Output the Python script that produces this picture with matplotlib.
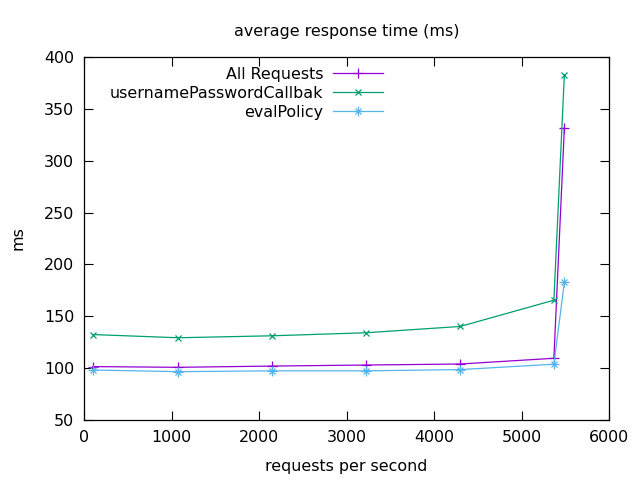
import matplotlib
matplotlib.use("Agg")
import matplotlib.pyplot as plt

rps = [100, 1075, 2150, 3220, 4300, 5370, 5490]
all_requests = [101.5, 100.8, 102.0, 103.0, 104.0, 109.5, 331.5]
username_cb = [132.4, 129.3, 131.2, 134.1, 140.2, 165.5, 383.0]
eval_policy = [98.2, 96.6, 97.4, 97.4, 98.6, 103.8, 183.0]

series_names = ["All Requests", "usernamePasswordCallbak", "evalPolicy"]
colors = ["#9400d3", "#009e73", "#56b4e9"]

x_ticks = [0, 1000, 2000, 3000, 4000, 5000, 6000]
y_ticks = [50, 100, 150, 200, 250, 300, 350, 400]

FS = 11.4
plt.rcParams['font.family'] = ['DejaVu Sans']
fig = plt.figure(figsize=(6.4, 4.8), dpi=100)
ax = fig.add_axes([84/640, 1-420/480, (609-84)/640, (420-57)/480])

lw = 0.9
ms = 6.5
ax.plot(rps, all_requests, color=colors[0], lw=lw, marker='+', ms=ms, mew=lw)
ax.plot(rps, username_cb, color=colors[1], lw=lw, marker='x', ms=ms*0.75, mew=lw)
ax.plot(rps, eval_policy, color=colors[2], lw=lw, marker='+', ms=ms, mew=lw)
ax.plot(rps, eval_policy, color=colors[2], lw=0, ls='none', marker='x', ms=ms*0.72, mew=lw)

ax.set_xlim(0, 6000)
ax.set_ylim(50, 400)
ax.set_xticks(x_ticks)
ax.set_yticks(y_ticks)
ax.tick_params(direction='in', length=6.5, width=0.8, top=True, right=True,
               labelsize=FS, pad=7, color='black')
for s in ax.spines.values():
    s.set_linewidth(0.9)

ax.set_title("average response time (ms)", fontsize=FS, pad=15)
ax.set_xlabel("requests per second", fontsize=FS, labelpad=10)
ax.set_ylabel("ms", fontsize=FS, labelpad=13)

# key (legend)
trans = ax.transAxes
def px2ax(x, y):
    return ((x - 84) / (609 - 84), (420 - y) / (420 - 57))
ky = [74, 93, 112]
for i, name in enumerate(series_names):
    tx, ty = px2ax(323, ky[i])
    ax.text(tx, ty, name, transform=trans, ha='right', va='center', fontsize=FS)
    x0, y0 = px2ax(333, ky[i] - 1)
    x1, _ = px2ax(383, ky[i] - 1)
    ax.plot([x0, x1], [y0, y0], transform=trans, color=colors[i], lw=lw)
    xm = (x0 + x1) / 2
    if i == 0:
        ax.plot([xm], [y0], transform=trans, color=colors[i], marker='+', ms=ms, mew=lw)
    elif i == 1:
        ax.plot([xm], [y0], transform=trans, color=colors[i], marker='x', ms=ms*0.75, mew=lw)
    else:
        ax.plot([xm], [y0], transform=trans, color=colors[i], marker='+', ms=ms, mew=lw)
        ax.plot([xm], [y0], transform=trans, color=colors[i], marker='x', ms=ms*0.72, mew=lw)

fig.savefig("out.png", dpi=100)
